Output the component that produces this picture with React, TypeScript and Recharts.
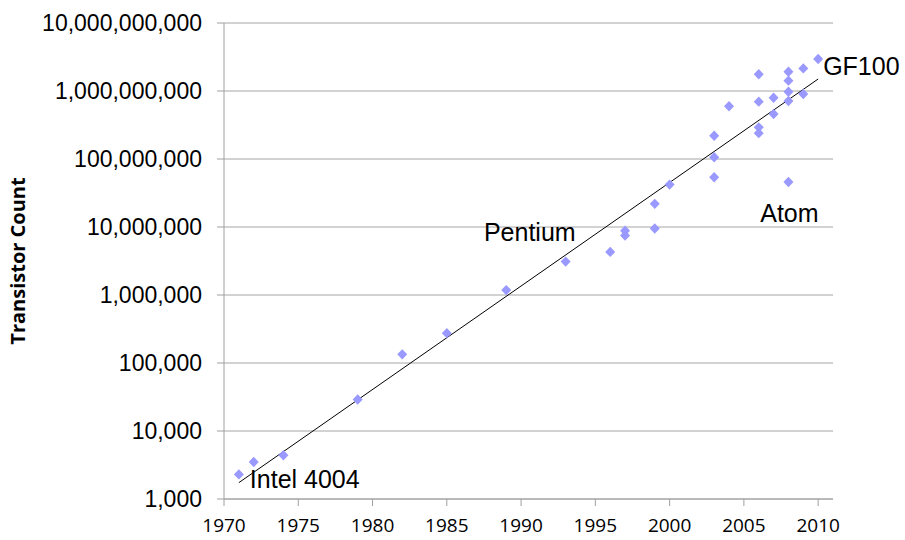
import { ScatterChart, Scatter, XAxis, YAxis, CartesianGrid } from "recharts";

// processors: year of introduction and transistor count
const years = [
  1971, 1972, 1974, 1979, 1982, 1985, 1989, 1993, 1996, 1997, 1997, 1999, 1999,
  2000, 2003, 2003, 2003, 2004, 2006, 2006, 2006, 2006, 2007, 2007, 2008, 2008,
  2008, 2008, 2008, 2009, 2009, 2010,
];
const counts = [
  2300, 3500, 4400, 29000, 134000, 275000, 1180000, 3100000, 4300000, 7500000,
  8800000, 9500000, 21900000, 42000000, 54000000, 106000000, 220000000,
  596000000, 240000000, 292000000, 697000000, 1760000000, 459000000, 794000000,
  46000000, 713000000, 977000000, 1420000000, 1920000000, 904000000,
  2150000000, 2950000000,
];
const labels = [
  "Intel 4004", "", "", "", "", "", "", "Pentium", "", "", "", "", "", "", "",
  "", "", "", "", "", "", "", "", "", "Atom", "", "", "", "", "", "", "GF100",
];

// exponential trendline end points
const trendYears = [1971, 2010];
const trendCounts = [1740, 1500000000];

const xTicks = [1970, 1975, 1980, 1985, 1990, 1995, 2000, 2005, 2010];
const yTicks = [1e3, 1e4, 1e5, 1e6, 1e7, 1e8, 1e9, 1e10];

const points = years.map((year, i) => ({
  year,
  count: counts[i],
  label: labels[i],
}));
const trend = trendYears.map((year, i) => ({ year, count: trendCounts[i] }));

const labelStyle: Record<string, { dx: number; dy: number; anchor: string }> = {
  "Intel 4004": { dx: 11, dy: 14, anchor: "start" },
  Pentium: { dx: 10, dy: -21, anchor: "end" },
  Atom: { dx: 1, dy: 40, anchor: "middle" },
  GF100: { dx: 5, dy: 16, anchor: "start" },
};

const Diamond = (props: any) => {
  const { cx, cy, payload } = props;
  const s = labelStyle[payload?.label];
  return (
    <g>
      <path
        d={`M${cx},${cy - 5.2} L${cx + 5},${cy} L${cx},${cy + 5.2} L${cx - 5},${cy} Z`}
        fill="#9999ff"
      />
      {s && (
        <text
          x={cx + s.dx}
          y={cy + s.dy}
          textAnchor={s.anchor as any}
          fontFamily="Liberation Sans"
          fontSize={25}
          fill="#000"
        >
          {payload.label}
        </text>
      )}
    </g>
  );
};

const fmt = (v: number) => v.toLocaleString("en-US");

export default function App() {
  return (
    <div style={{ position: "absolute", left: 0, top: 0, background: "#fff" }}>
      <ScatterChart
        width={905}
        height={540}
        margin={{ top: 23, right: 72, bottom: 0, left: 0 }}
      >
        <CartesianGrid vertical={false} stroke="#a6a6a6" />
        <XAxis
          type="number"
          dataKey="year"
          domain={[1970, 2011]}
          ticks={xTicks}
          height={41}
          tickSize={7}
          tickMargin={13}
          stroke="#a0a0a0"
          tick={{ fontFamily: "Open Sans", fontSize: 19, fill: "#000" }}
        />
        <YAxis
          type="number"
          dataKey="count"
          scale="log"
          domain={[1e3, 1e10]}
          ticks={yTicks}
          width={224}
          tickSize={7}
          tickMargin={15}
          stroke="#a0a0a0"
          tickFormatter={fmt}
          tick={{ fontFamily: "Liberation Sans", fontSize: 23, fill: "#000" }}
          label={{
            value: "Transistor Count",
            angle: -90,
            position: "insideLeft",
            offset: 18,
            style: {
              textAnchor: "middle",
              fontFamily: "Open Sans",
              fontWeight: 700,
              fontSize: 20,
              fill: "#000",
            },
          }}
        />
        <Scatter
          data={trend}
          line={{ stroke: "#000", strokeWidth: 1 }}
          shape={() => <g />}
          isAnimationActive={false}
        />
        <Scatter data={points} shape={Diamond} isAnimationActive={false} />
      </ScatterChart>
    </div>
  );
}
